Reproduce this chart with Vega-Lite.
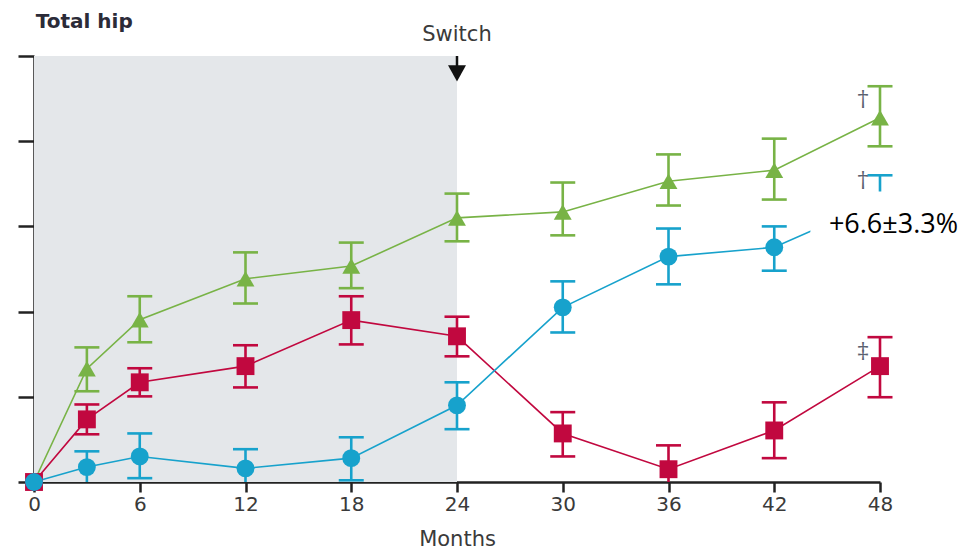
{
  "$schema": "https://vega.github.io/schema/vega-lite/v6.json",
  "width": 846,
  "height": 426,
  "autosize": {"type": "none"},
  "padding": {"left": 34, "top": 56, "right": 88, "bottom": 67},
  "background": "white",
  "config": {"view": {"stroke": null}},
  "datasets": {
    "bmd": [
      {"grp": "Combination to denosumab", "month": 0, "v": 0, "lo": 0, "hi": 0},
      {"grp": "Combination to denosumab", "month": 3, "v": 2.66, "lo": 2.13, "hi": 3.16},
      {"grp": "Combination to denosumab", "month": 6, "v": 3.81, "lo": 3.28, "hi": 4.36},
      {"grp": "Combination to denosumab", "month": 12, "v": 4.77, "lo": 4.19, "hi": 5.39},
      {"grp": "Combination to denosumab", "month": 18, "v": 5.07, "lo": 4.55, "hi": 5.62},
      {"grp": "Combination to denosumab", "month": 24, "v": 6.2, "lo": 5.65, "hi": 6.77},
      {"grp": "Combination to denosumab", "month": 30, "v": 6.34, "lo": 5.79, "hi": 7.03},
      {"grp": "Combination to denosumab", "month": 36, "v": 7.06, "lo": 6.49, "hi": 7.69},
      {"grp": "Combination to denosumab", "month": 42, "v": 7.32, "lo": 6.63, "hi": 8.06},
      {"grp": "Combination to denosumab", "month": 48, "v": 8.55, "lo": 7.88, "hi": 9.29},
      {"grp": "Denosumab to teriparatide", "month": 0, "v": 0, "lo": 0, "hi": 0},
      {"grp": "Denosumab to teriparatide", "month": 3, "v": 1.47, "lo": 1.12, "hi": 1.82},
      {"grp": "Denosumab to teriparatide", "month": 6, "v": 2.34, "lo": 2.01, "hi": 2.67},
      {"grp": "Denosumab to teriparatide", "month": 12, "v": 2.72, "lo": 2.22, "hi": 3.21},
      {"grp": "Denosumab to teriparatide", "month": 18, "v": 3.8, "lo": 3.23, "hi": 4.36},
      {"grp": "Denosumab to teriparatide", "month": 24, "v": 3.42, "lo": 2.95, "hi": 3.88},
      {"grp": "Denosumab to teriparatide", "month": 30, "v": 1.14, "lo": 0.6, "hi": 1.64},
      {"grp": "Denosumab to teriparatide", "month": 36, "v": 0.3, "lo": 0, "hi": 0.86},
      {"grp": "Denosumab to teriparatide", "month": 42, "v": 1.21, "lo": 0.56, "hi": 1.87},
      {"grp": "Denosumab to teriparatide", "month": 48, "v": 2.72, "lo": 1.99, "hi": 3.4},
      {"grp": "Teriparatide to denosumab", "month": 0, "v": 0, "lo": 0, "hi": 0},
      {"grp": "Teriparatide to denosumab", "month": 3, "v": 0.35, "lo": 0, "hi": 0.72},
      {"grp": "Teriparatide to denosumab", "month": 6, "v": 0.6, "lo": 0.09, "hi": 1.14},
      {"grp": "Teriparatide to denosumab", "month": 12, "v": 0.32, "lo": 0, "hi": 0.77},
      {"grp": "Teriparatide to denosumab", "month": 18, "v": 0.56, "lo": 0.04, "hi": 1.05},
      {"grp": "Teriparatide to denosumab", "month": 24, "v": 1.8, "lo": 1.24, "hi": 2.34},
      {"grp": "Teriparatide to denosumab", "month": 30, "v": 4.1, "lo": 3.51, "hi": 4.71},
      {"grp": "Teriparatide to denosumab", "month": 36, "v": 5.29, "lo": 4.64, "hi": 5.95},
      {"grp": "Teriparatide to denosumab", "month": 42, "v": 5.51, "lo": 4.96, "hi": 6.0},
      {"grp": "Teriparatide to denosumab", "month": 48, "v": 6.6, "lo": 6.0, "hi": 7.2}
    ],
    "shade": [{"start": 0, "end": 24, "low": 0, "high": 10}],
    "mask": [{"start": 44.05, "end": 53, "low": 5.2, "high": 6.82}],
    "callout": [{"month": 45.1, "v": 5.84, "label": "+6.6±3.3%"}],
    "marks": [
      {"month": 47.04, "v": 8.98, "sym": "†"},
      {"month": 47.04, "v": 7.1, "sym": "†"},
      {"month": 47.04, "v": 3.08, "sym": "‡"}
    ],
    "heading": [{"month": 0.1, "v": 10.66, "label": "Total hip"}],
    "switch": [{"month": 24, "v": 10.345, "label": "Switch", "top": 10, "shaftEnd": 9.71, "head": 9.59}]
  },
  "layer": [
    {
      "data": {"name": "shade"},
      "mark": {"type": "rect", "color": "#e4e7ea"},
      "encoding": {
        "x": {
          "field": "start", "type": "quantitative", "title": "Months",
          "scale": {"domain": [0, 48], "nice": false, "zero": false},
          "axis": {
            "values": [0, 6, 12, 18, 24, 30, 36, 42, 48],
            "grid": false,
            "domainColor": "#222222", "domainWidth": 2.5,
            "tickColor": "#222222", "tickWidth": 2.5, "tickSize": 10,
            "labelFont": "DejaVu Sans", "labelFontSize": 20, "labelColor": "#3a3a3a",
            "labelPadding": 2, "labelFlush": false,
            "titleFont": "DejaVu Sans", "titleFontSize": 21, "titleFontWeight": "normal",
            "titleColor": "#3a3a3a", "titleBaseline": "alphabetic", "titleY": 63
          }
        },
        "x2": {"field": "end"},
        "y": {
          "field": "low", "type": "quantitative", "title": null,
          "scale": {"domain": [0, 10], "nice": false},
          "axis": {
            "values": [0, 2, 4, 6, 8, 10],
            "labels": false, "grid": false,
            "domainColor": "#222222", "domainWidth": 2.5,
            "tickColor": "#222222", "tickWidth": 2.5, "tickSize": 16
          }
        },
        "y2": {"field": "high"}
      }
    },
    {
      "data": {"name": "bmd"},
      "mark": {"type": "line", "strokeWidth": 1.6},
      "encoding": {
        "x": {"field": "month", "type": "quantitative", "title": "Months", "scale": {"domain": [0, 48], "nice": false, "zero": false}},
        "y": {"field": "v", "type": "quantitative", "title": null, "scale": {"domain": [0, 10], "nice": false}},
        "color": {
          "field": "grp", "type": "nominal", "legend": null,
          "scale": {
            "domain": ["Combination to denosumab", "Denosumab to teriparatide", "Teriparatide to denosumab"],
            "range": ["#78b346", "#c1083f", "#17a2cc"]
          }
        }
      }
    },
    {
      "data": {"name": "bmd"},
      "transform": [{"filter": "datum.month > 0"}],
      "mark": {"type": "rule", "strokeWidth": 2.6},
      "encoding": {
        "x": {"field": "month", "type": "quantitative", "title": "Months", "scale": {"domain": [0, 48], "nice": false, "zero": false}},
        "y": {"field": "lo", "type": "quantitative", "title": null, "scale": {"domain": [0, 10], "nice": false}},
        "y2": {"field": "hi"},
        "color": {"field": "grp", "type": "nominal", "legend": null}
      }
    },
    {
      "data": {"name": "bmd"},
      "transform": [{"filter": "datum.month > 0"}],
      "mark": {"type": "tick", "orient": "horizontal", "size": 25, "thickness": 2.6, "opacity": 1},
      "encoding": {
        "x": {"field": "month", "type": "quantitative", "title": "Months", "scale": {"domain": [0, 48], "nice": false, "zero": false}},
        "y": {"field": "hi", "type": "quantitative", "title": null, "scale": {"domain": [0, 10], "nice": false}},
        "color": {"field": "grp", "type": "nominal", "legend": null}
      }
    },
    {
      "data": {"name": "bmd"},
      "transform": [{"filter": "datum.month > 0 && datum.lo > 0"}],
      "mark": {"type": "tick", "orient": "horizontal", "size": 25, "thickness": 2.6, "opacity": 1},
      "encoding": {
        "x": {"field": "month", "type": "quantitative", "title": "Months", "scale": {"domain": [0, 48], "nice": false, "zero": false}},
        "y": {"field": "lo", "type": "quantitative", "title": null, "scale": {"domain": [0, 10], "nice": false}},
        "color": {"field": "grp", "type": "nominal", "legend": null}
      }
    },
    {
      "data": {"name": "bmd"},
      "mark": {"type": "point", "filled": true, "opacity": 1, "size": 320},
      "encoding": {
        "x": {"field": "month", "type": "quantitative", "title": "Months", "scale": {"domain": [0, 48], "nice": false, "zero": false}},
        "y": {"field": "v", "type": "quantitative", "title": null, "scale": {"domain": [0, 10], "nice": false}},
        "color": {"field": "grp", "type": "nominal", "legend": null},
        "shape": {
          "field": "grp", "type": "nominal", "legend": null,
          "scale": {
            "domain": ["Combination to denosumab", "Denosumab to teriparatide", "Teriparatide to denosumab"],
            "range": ["triangle-up", "square", "circle"]
          }
        }
      }
    },
    {
      "data": {"name": "mask"},
      "mark": {"type": "rect", "color": "white"},
      "encoding": {
        "x": {"field": "start", "type": "quantitative", "title": "Months", "scale": {"domain": [0, 48], "nice": false, "zero": false}},
        "x2": {"field": "end"},
        "y": {"field": "low", "type": "quantitative", "title": null, "scale": {"domain": [0, 10], "nice": false}},
        "y2": {"field": "high"}
      }
    },
    {
      "data": {"name": "callout"},
      "mark": {"type": "text", "align": "left", "baseline": "alphabetic", "font": "Open Sans", "fontSize": 27, "color": "black"},
      "encoding": {
        "x": {"field": "month", "type": "quantitative", "title": "Months", "scale": {"domain": [0, 48], "nice": false, "zero": false}},
        "y": {"field": "v", "type": "quantitative", "title": null, "scale": {"domain": [0, 10], "nice": false}},
        "text": {"field": "label"}
      }
    },
    {
      "data": {"name": "marks"},
      "mark": {"type": "text", "align": "center", "baseline": "middle", "font": "DejaVu Serif", "fontSize": 22, "color": "#5b6170"},
      "encoding": {
        "x": {"field": "month", "type": "quantitative", "title": "Months", "scale": {"domain": [0, 48], "nice": false, "zero": false}},
        "y": {"field": "v", "type": "quantitative", "title": null, "scale": {"domain": [0, 10], "nice": false}},
        "text": {"field": "sym"}
      }
    },
    {
      "data": {"name": "heading"},
      "mark": {"type": "text", "align": "left", "baseline": "alphabetic", "font": "DejaVu Sans", "fontSize": 20, "fontWeight": "bold", "color": "#2b2b38"},
      "encoding": {
        "x": {"field": "month", "type": "quantitative", "title": "Months", "scale": {"domain": [0, 48], "nice": false, "zero": false}},
        "y": {"field": "v", "type": "quantitative", "title": null, "scale": {"domain": [0, 10], "nice": false}},
        "text": {"field": "label"}
      }
    },
    {
      "data": {"name": "switch"},
      "mark": {"type": "text", "align": "center", "baseline": "alphabetic", "font": "DejaVu Sans", "fontSize": 21, "color": "#3a3a3a"},
      "encoding": {
        "x": {"field": "month", "type": "quantitative", "title": "Months", "scale": {"domain": [0, 48], "nice": false, "zero": false}},
        "y": {"field": "v", "type": "quantitative", "title": null, "scale": {"domain": [0, 10], "nice": false}},
        "text": {"field": "label"}
      }
    },
    {
      "data": {"name": "switch"},
      "mark": {"type": "rule", "strokeWidth": 2.5, "color": "#111111"},
      "encoding": {
        "x": {"field": "month", "type": "quantitative", "title": "Months", "scale": {"domain": [0, 48], "nice": false, "zero": false}},
        "y": {"field": "top", "type": "quantitative", "title": null, "scale": {"domain": [0, 10], "nice": false}},
        "y2": {"field": "shaftEnd"}
      }
    },
    {
      "data": {"name": "switch"},
      "mark": {"type": "point", "filled": true, "opacity": 1, "color": "#111111", "size": 324, "shape": "M-1,-0.9L1,-0.9L0,0.9Z"},
      "encoding": {
        "x": {"field": "month", "type": "quantitative", "title": "Months", "scale": {"domain": [0, 48], "nice": false, "zero": false}},
        "y": {"field": "head", "type": "quantitative", "title": null, "scale": {"domain": [0, 10], "nice": false}}
      }
    }
  ]
}
